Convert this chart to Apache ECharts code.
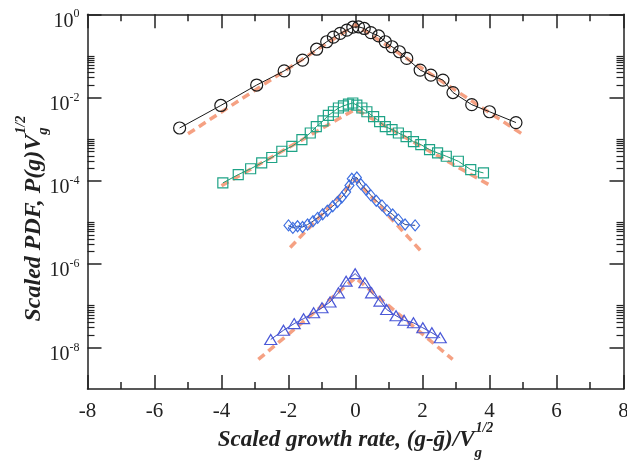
<!DOCTYPE html>
<html><head><meta charset="utf-8">
<script src="https://cdn.jsdelivr.net/npm/echarts@6.0.0/dist/echarts.min.js"></script>
<style>html,body{margin:0;padding:0;background:#fff;}#chart{width:627px;height:462px;}</style>
</head><body><div id="chart"></div>
<script>
// ---- data ----
const circleX = [-5.25,-4.02,-2.95,-2.13,-1.58,-1.16,-0.86,-0.66,-0.46,-0.26,-0.08,0.09,0.26,0.46,0.69,0.89,1.09,1.31,1.53,1.93,2.25,2.61,2.91,3.47,4.00,4.79];
const circleY = [1.86e-3,6.46e-3,2.00e-2,4.37e-2,7.94e-2,0.145,0.219,0.282,0.347,0.417,0.490,0.501,0.457,0.363,0.302,0.219,0.166,0.126,8.71e-2,4.57e-2,3.47e-2,2.63e-2,1.32e-2,6.76e-3,4.57e-3,2.51e-3];

const squareX = [-3.96,-3.50,-3.13,-2.80,-2.50,-2.20,-1.90,-1.60,-1.35,-1.17,-0.97,-0.81,-0.66,-0.51,-0.36,-0.21,-0.08,0.04,0.19,0.34,0.54,0.72,0.89,1.09,1.28,1.51,1.73,1.95,2.21,2.45,2.71,3.07,3.44,3.82];
const squareY = [8.91e-5,1.41e-4,1.95e-4,2.69e-4,3.63e-4,5.13e-4,6.76e-4,9.77e-4,1.41e-3,2.00e-3,2.75e-3,3.72e-3,4.57e-3,5.62e-3,6.31e-3,6.92e-3,7.41e-3,6.61e-3,5.62e-3,4.57e-3,3.47e-3,2.63e-3,2.00e-3,1.70e-3,1.41e-3,1.15e-3,8.71e-4,7.41e-4,5.62e-4,4.68e-4,3.89e-4,2.95e-4,1.86e-4,1.55e-4];

const diamondX = [-2.00,-1.87,-1.73,-1.58,-1.43,-1.27,-1.13,-0.98,-0.84,-0.68,-0.54,-0.41,-0.28,-0.18,-0.11,0.04,0.16,0.31,0.46,0.62,0.79,0.94,1.11,1.28,1.48,1.78];
const diamondY = [8.51e-6,7.41e-6,8.13e-6,7.76e-6,8.91e-6,1.07e-5,1.29e-5,1.58e-5,1.91e-5,2.45e-5,3.09e-5,3.98e-5,5.37e-5,7.76e-5,1.12e-4,1.20e-4,8.32e-5,6.17e-5,4.47e-5,3.31e-5,2.57e-5,1.95e-5,1.55e-5,1.17e-5,8.91e-6,8.51e-6];

const triangleX = [-2.53,-2.15,-1.83,-1.55,-1.25,-1.00,-0.76,-0.51,-0.28,-0.01,0.28,0.48,0.73,0.93,1.21,1.45,1.73,2.01,2.28,2.53];
const triangleY = [1.55e-8,2.57e-8,3.72e-8,4.90e-8,6.76e-8,8.91e-8,1.23e-7,2.04e-7,3.89e-7,5.89e-7,3.55e-7,2.04e-7,1.29e-7,8.13e-8,5.75e-8,4.47e-8,3.89e-8,2.95e-8,2.24e-8,1.70e-8];

// dashed fitted curves (end points and apex)
const fitCircleX = [-5.0, 0, 5.0];       const fitCircleY = [1.35e-3, 0.562, 1.29e-3];
const fitSquareX = [-4.0, 0, 4.0];       const fitSquareY = [7.59e-5, 5.25e-3, 7.94e-5];
const fitDiamondX = [-1.95, 0, 1.98];    const fitDiamondY = [2.51e-6, 1.07e-4, 1.95e-6];
const fitTriangleX = [-2.9, 0, 2.9];     const fitTriangleY = [5.13e-9, 4.68e-7, 5.13e-9];

// axis ticks
const xMin = -8, xMax = 8, xStep = 2;
const yMin = 1e-9, yMax = 1;
const yMajorTicks = [1, 1e-2, 1e-4, 1e-6, 1e-8];
const yMinorMantissa = [10, 9, 8, 7, 6, 5, 4, 3, 2];
const yMinorDecades = [-2, -4, -6, -8];

// ---- build chart ----
const yMinorTicks = [];
yMinorDecades.forEach(d => yMinorMantissa.forEach(m => yMinorTicks.push(m * Math.pow(10, d))));

const SERIF = "'Liberation Serif','DejaVu Serif',serif";
const INK = '#222';
const pairs = (xs, ys) => xs.map((x, i) => [x, ys[i]]);
const lineW = { color: INK, width: 1.5 };

function xAx(pos, withLabels) {
  const a = {
    type: 'value', position: pos, min: xMin, max: xMax, interval: xStep,
    axisLine: { show: true, onZero: false, lineStyle: lineW },
    axisTick: { show: true, inside: true, length: 14, lineStyle: lineW },
    minorTick: { show: true, splitNumber: 2, length: 7, lineStyle: lineW },
    splitLine: { show: false }, minorSplitLine: { show: false },
    axisLabel: { show: withLabels, fontFamily: SERIF, fontSize: 21, color: INK, margin: 12 }
  };
  if (withLabels) {
    a.name = '{t|Scaled growth rate, (g-\u1E21)/V}{sub|g}{sup|1/2}';
    a.nameLocation = 'middle';
    a.nameGap = 31;
    a.nameMoveOverlap = false;
    a.nameTextStyle = {
      fontFamily: SERIF, fontSize: 23, fontWeight: 'bold', fontStyle: 'italic', color: INK,
      rich: {
        t: { fontFamily: SERIF, fontSize: 23, fontWeight: 'bold', fontStyle: 'italic', color: INK, align: 'left' },
        sub: { fontFamily: SERIF, fontSize: 15, fontWeight: 'bold', fontStyle: 'italic', color: INK, align: 'left', width: 1, padding: [26, 0, 0, 0] },
        sup: { fontFamily: SERIF, fontSize: 14, fontWeight: 'bold', fontStyle: 'italic', color: INK, align: 'left', padding: [0, 0, 24, 0] }
      }
    };
  }
  return a;
}

function yAx(pos, ticks, len, major, withLabels) {
  const a = {
    type: 'log', logBase: 10, position: pos, min: yMin, max: yMax,
    axisLine: { show: major, onZero: false, lineStyle: lineW },
    axisTick: { show: true, inside: true, length: len, customValues: ticks, lineStyle: { color: INK, width: major ? 1.5 : 1.2 } },
    minorTick: { show: false },
    splitLine: { show: false },
    axisLabel: { show: withLabels }
  };
  if (withLabels) {
    a.axisLabel = {
      show: true, customValues: ticks, margin: 8, color: INK,
      formatter: v => '{b|10}{s|' + Math.round(Math.log10(v)) + '}',
      rich: {
        b: { fontFamily: SERIF, fontSize: 20, color: INK, padding: [14, 0, 0, 0] },
        s: { fontFamily: SERIF, fontSize: 12, color: INK }
      }
    };
    a.name = '{t|Scaled PDF, P(g)V}{sub|g}{sup|1/2}';
    a.nameLocation = 'middle';
    a.nameRotate = 90;
    a.nameGap = 35;
    a.nameMoveOverlap = false;
    a.nameTextStyle = {
      fontFamily: SERIF, fontSize: 24, fontWeight: 'bold', fontStyle: 'italic', color: INK,
      padding: [0, 34, 0, 0],
      rich: {
        t: { fontFamily: SERIF, fontSize: 24, fontWeight: 'bold', fontStyle: 'italic', color: INK, align: 'left' },
        sub: { fontFamily: SERIF, fontSize: 15, fontWeight: 'bold', fontStyle: 'italic', color: INK, align: 'left', width: 1, padding: [20, 0, 0, 0] },
        sup: { fontFamily: SERIF, fontSize: 14, fontWeight: 'bold', fontStyle: 'italic', color: INK, align: 'left', padding: [0, 0, 24, 0] }
      }
    };
  }
  return a;
}

const FIT = { color: '#f2825a', width: 3.5, type: [8, 5], opacity: 0.75 };
function fit(xs, ys) {
  return { type: 'line', data: pairs(xs, ys), showSymbol: false, symbol: 'none', lineStyle: FIT, z: 1, silent: true, animation: false };
}
function marks(xs, ys, symbol, size, border, lineColor) {
  return {
    type: 'line', data: pairs(xs, ys), symbol: symbol, symbolSize: size, showAllSymbol: true,
    itemStyle: { color: 'transparent', borderColor: border, borderWidth: 1.2 },
    lineStyle: { color: lineColor, width: 1 }, z: 3, animation: false
  };
}

const chart = echarts.init(document.getElementById('chart'), null, { renderer: 'canvas' });
chart.setOption({
  backgroundColor: '#fff',
  animation: false,
  grid: { left: 87.5, right: 3.5, top: 14.3, bottom: 73, containLabel: false, outerBoundsMode: 'none' },
  xAxis: [xAx('bottom', true), xAx('top', false)],
  yAxis: [
    yAx('left', yMajorTicks, 14, true, true),
    yAx('left', yMinorTicks, 7, false, false),
    yAx('right', yMajorTicks, 14, true, false),
    yAx('right', yMinorTicks, 7, false, false)
  ],
  series: [
    fit(fitCircleX, fitCircleY),
    fit(fitSquareX, fitSquareY),
    fit(fitDiamondX, fitDiamondY),
    fit(fitTriangleX, fitTriangleY),
    marks(circleX, circleY, 'circle', 12, '#1a1a1a', '#1a1a1a'),
    marks(squareX, squareY, 'rect', 10, '#1ea386', '#1e9a70'),
    marks(diamondX, diamondY, 'diamond', [9, 11], '#3d6ee0', '#2a3f80'),
    marks(triangleX, triangleY, 'triangle', [12, 10], '#4a58d8', '#3a48c0')
  ]
});
</script></body></html>
